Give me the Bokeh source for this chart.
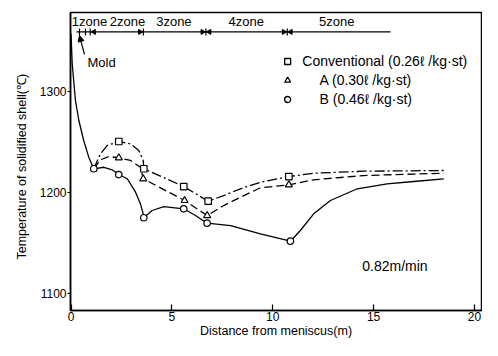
import math
from bokeh.plotting import figure
from bokeh.models import FixedTicker, Range1d, Arrow, NormalHead
from bokeh.core.properties import value
from bokeh.embed import file_html
from bokeh.resources import INLINE

FONT = "Liberation Sans"

# ---- data ----
x_ticks = [0, 5, 10, 15, 20]
y_ticks = [1100, 1200, 1300]

# B (0.46) solid curve (incl. common mold part)
B_line_x = [0.0, 0.06, 0.22, 0.39, 0.63, 0.88, 1.13, 1.63, 2.04, 2.37, 2.79, 3.20, 3.44, 3.58, 3.61,
            4.02, 4.60, 5.59, 6.17, 6.75, 7.91, 9.39, 10.88, 11.37, 12.03, 12.86, 14.19, 15.67, 16.99, 18.48]
B_line_y = [1357.1, 1327.4, 1291.1, 1271.3, 1251.5, 1235.0, 1223.5, 1225.0, 1222.5, 1217.8, 1213.6, 1200.3, 1188.8, 1178.9, 1175.0,
            1182.2, 1186.1, 1183.9, 1177.2, 1169.6, 1167.3, 1159.1, 1151.8, 1162.4, 1178.9, 1192.1, 1203.7, 1208.6, 1210.9, 1213.6]
B_mark_x = [1.13, 2.37, 3.61, 5.59, 6.75, 10.88]
B_mark_y = [1223.5, 1217.8, 1175.0, 1183.9, 1169.6, 1151.8]

# Conventional (0.26) dash-dot curve
C_line_x = [1.13, 1.46, 1.79, 2.37, 2.95, 3.36, 3.58, 3.61, 5.59, 6.80, 7.57, 8.40, 9.39, 10.80, 12.03, 14.51, 18.48]
C_line_y = [1223.5, 1238.3, 1246.5, 1250.5, 1248.2, 1241.6, 1231.7, 1223.5, 1205.9, 1191.4, 1197.0, 1203.7, 1210.2, 1215.8, 1219.1, 1221.1, 1221.8]
C_mark_x = [2.37, 3.61, 5.59, 6.80, 10.80]
C_mark_y = [1250.5, 1223.5, 1205.9, 1191.4, 1215.8]

# A (0.30) dashed curve
A_line_x = [1.13, 1.46, 1.87, 2.37, 2.95, 3.44, 3.58, 5.63, 6.75, 7.57, 8.40, 9.39, 10.80, 12.03, 14.51, 18.48]
A_line_y = [1223.5, 1232.4, 1235.6, 1234.4, 1231.7, 1225.0, 1213.6, 1192.1, 1177.2, 1187.1, 1195.3, 1204.7, 1207.6, 1212.6, 1216.8, 1219.1]
A_mark_x = [2.37, 3.58, 5.63, 6.75, 10.80]
A_mark_y = [1234.4, 1213.6, 1192.1, 1177.2, 1207.6]

# zones
zone_labels = ["1zone", "2zone", "3zone", "4zone", "5zone"]
zone_label_x = [0.92, 2.80, 5.10, 8.69, 13.17]
zone_label_y = 1369.0
zone_line_x = [0.27, 15.84]
zone_line_y = 1359.0
zone_bound_x = [0.42, 0.72, 0.95, 3.59, 6.69, 10.72]
arrow_right_x = [3.42, 6.52, 10.55]
arrow_left_x = [1.14, 6.86, 10.89]

legend_labels = ["Conventional (0.26ℓ /kg·st)", "A  (0.30ℓ /kg·st)", "B  (0.46ℓ /kg·st)"]
legend_marker_x = 10.74
legend_text_x = [11.47, 12.32, 12.32]
legend_y = [1329.7, 1310.9, 1292.1]
legend_markers = ["square", "triangle", "circle"]

# ---- figure ----
p = figure(width=482, height=340, output_backend="svg", toolbar_location=None,
           x_range=Range1d(-0.025, 20.35), y_range=Range1d(1083.2, 1378.2),
           min_border_left=70, min_border_right=1, min_border_top=12, min_border_bottom=30)
p.background_fill_color = "white"
p.border_fill_color = "white"
p.grid.visible = False
p.outline_line_color = "black"
p.outline_line_width = 1.5

p.xaxis.ticker = FixedTicker(ticks=x_ticks)
p.yaxis.ticker = FixedTicker(ticks=y_ticks)
for ax in (p.xaxis, p.yaxis):
    ax.axis_line_color = "black"
    ax.axis_line_width = 1.5
    ax.major_tick_line_color = "black"
    ax.major_tick_line_width = 1.2
    ax.minor_tick_line_color = None
    ax.major_label_text_font = FONT
    ax.major_label_text_font_size = "12px"
    ax.major_label_text_color = "black"
    ax.axis_label_text_font = FONT
    ax.axis_label_text_font_style = "normal"
    ax.axis_label_text_color = "black"
p.xaxis.major_tick_in = 6
p.xaxis.major_tick_out = 0
p.yaxis.major_tick_in = 0
p.yaxis.major_tick_out = 3
p.yaxis.major_label_standoff = 1
p.xaxis.major_label_standoff = 1
p.xaxis.axis_label = "Distance from meniscus(m)"
p.yaxis.axis_label = "Temperature  of  solidified  shell(℃)"
p.xaxis.axis_label_text_font_size = "12.5px"
p.yaxis.axis_label_text_font_size = "12.5px"
p.xaxis.axis_label_standoff = 0
p.yaxis.axis_label_standoff = 8

# curves
p.line(B_line_x, B_line_y, line_color="black", line_width=1.3)
p.line(C_line_x, C_line_y, line_color="black", line_width=1.3, line_dash="10 3 2 3")
p.line(A_line_x, A_line_y, line_color="black", line_width=1.3, line_dash="8 4")

p.scatter(B_mark_x, B_mark_y, marker="circle", size=6.5, fill_color="white", line_color="black", line_width=1.2)
p.scatter(C_mark_x, C_mark_y, marker="square", size=6.5, fill_color="white", line_color="black", line_width=1.2)
p.scatter(A_mark_x, A_mark_y, marker="triangle", size=7, fill_color="white", line_color="black", line_width=1.2)

# zone indicator
p.line(zone_line_x, [zone_line_y] * len(zone_line_x), line_color="black", line_width=1.2)
p.scatter(zone_bound_x, [zone_line_y] * len(zone_bound_x), marker="dash", angle=math.pi / 2, size=7,
          line_color="black", line_width=1.2)
p.scatter(arrow_right_x, [zone_line_y] * len(arrow_right_x), marker="triangle", angle=-math.pi / 2, size=5,
          fill_color="black", line_color="black")
p.scatter(arrow_left_x, [zone_line_y] * len(arrow_left_x), marker="triangle", angle=math.pi / 2, size=5,
          fill_color="black", line_color="black")
p.text(zone_label_x, [zone_label_y] * len(zone_label_x), text=zone_labels, text_align="center",
       text_baseline="middle", text_font=value(FONT), text_font_size="13px", text_color="black")

# mold arrow
p.add_layout(Arrow(x_start=0.67, y_start=1336.6, x_end=0.42, y_end=1355.4, line_color="black", line_width=1.2,
                   end=NormalHead(size=6, fill_color="black", line_color="black")))
p.text([0.82], [1328.7], text=["Mold"], text_align="left", text_baseline="middle",
       text_font=value(FONT), text_font_size="13px", text_color="black")

# legend
for m, yy in zip(legend_markers, legend_y):
    p.scatter([legend_marker_x], [yy], marker=m, size=6, fill_color="white", line_color="black", line_width=1.3)
p.text(legend_text_x, legend_y, text=legend_labels, text_align="left", text_baseline="middle",
       text_font=value(FONT), text_font_size="14px", text_color="black")

# speed note
p.text([16.06], [1127.7], text=["0.82m/min"], text_align="center", text_baseline="middle",
       text_font=value(FONT), text_font_size="14px", text_color="black")

open("out.html", "w").write(file_html(p, INLINE))
